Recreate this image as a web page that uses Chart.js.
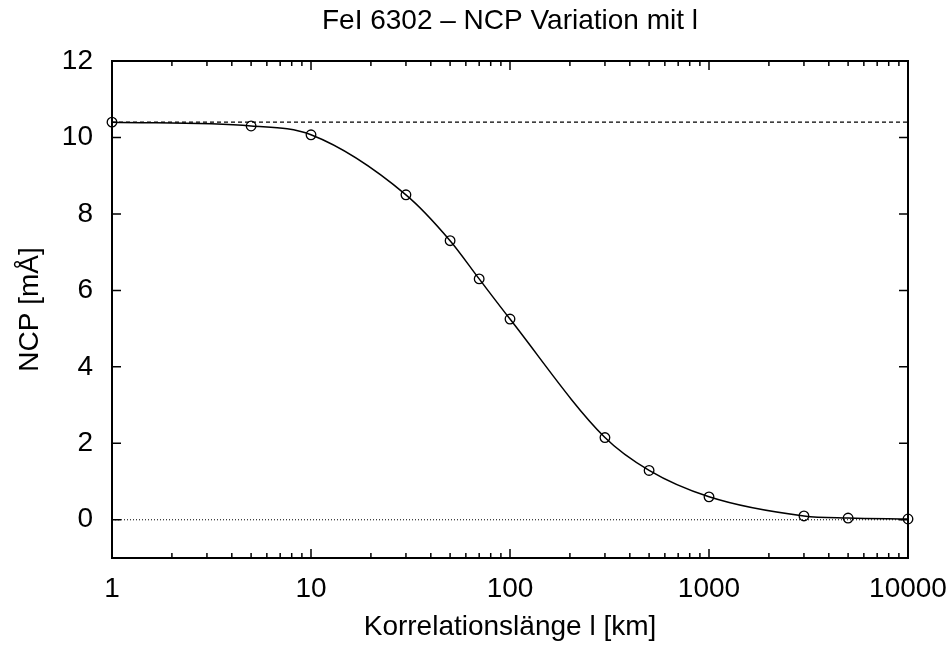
<!DOCTYPE html>
<html>
<head>
<meta charset="utf-8">
<title>FeI 6302 – NCP Variation mit l</title>
<script src="https://cdn.jsdelivr.net/npm/chart.js@4.4.1/dist/chart.umd.min.js"></script>
<style>
  html, body { margin: 0; padding: 0; background: #fff; }
  canvas { display: block; }
</style>
</head>
<body>
<canvas id="ncpChart" width="950" height="647"></canvas>
<script>
// Korrelationslänge l [km] und NCP [mÅ]
const lengths = [1, 5, 10, 30, 50, 70, 100, 300, 500, 1000, 3000, 5000, 10000];
const ncpValues = [10.40, 10.30, 10.07, 8.50, 7.30, 6.30, 5.25, 2.15, 1.29, 0.60, 0.10, 0.045, 0.02];
const refLevel = 10.40; // gestrichelte Linie oben
const xTicks = [1, 10, 100, 1000, 10000];
const yTicks = [0, 2, 4, 6, 8, 10, 12];

const fontFamily = '"Liberation Sans", Arial, Helvetica, sans-serif';
const bigFont = { family: fontFamily, size: 28, weight: 'normal' };

// Rahmen und nach innen zeigende Ticks (wie gnuplot)
const frameTicks = {
    id: 'frameTicks',
    afterDatasetsDraw(chart) {
        const { ctx, chartArea: a, scales: { x, y } } = chart;
        ctx.save();
        ctx.strokeStyle = '#000';
        ctx.lineWidth = 1.5;
        ctx.beginPath();
        yTicks.forEach(v => {
            const py = y.getPixelForValue(v);
            ctx.moveTo(a.left, py); ctx.lineTo(a.left + 9, py);
            ctx.moveTo(a.right, py); ctx.lineTo(a.right - 9, py);
        });
        xTicks.forEach((d, i) => {
            const px = x.getPixelForValue(d);
            ctx.moveTo(px, a.bottom); ctx.lineTo(px, a.bottom - 9);
            ctx.moveTo(px, a.top); ctx.lineTo(px, a.top + 9);
            if (i < xTicks.length - 1) {
                for (let k = 2; k <= 9; k++) {
                    const pm = x.getPixelForValue(d * k);
                    ctx.moveTo(pm, a.bottom); ctx.lineTo(pm, a.bottom - 5);
                    ctx.moveTo(pm, a.top); ctx.lineTo(pm, a.top + 5);
                }
            }
        });
        ctx.stroke();
        ctx.lineWidth = 2;
        ctx.strokeRect(a.left, a.top, a.width, a.height);
        ctx.restore();
    }
};

const ctx = document.getElementById('ncpChart').getContext('2d');
const ncpChart = new Chart(ctx, {
    type: 'line',
    data: {
        datasets: [
            {
                label: 'NCP',
                data: lengths.map((l, i) => ({ x: l, y: ncpValues[i] })),
                borderColor: '#000',
                borderWidth: 1.5,
                cubicInterpolationMode: 'monotone',
                pointRadius: 4.8,
                pointBorderWidth: 1.3,
                pointBorderColor: '#000',
                pointBackgroundColor: 'rgba(0,0,0,0)',
                clip: false
            },
            {
                label: 'Referenz',
                data: [{ x: xTicks[0], y: refLevel }, { x: xTicks[xTicks.length - 1], y: refLevel }],
                borderColor: '#000',
                borderWidth: 1.2,
                borderDash: [4, 3],
                pointRadius: 0
            },
            {
                label: 'Null',
                data: [{ x: xTicks[0], y: 0 }, { x: xTicks[xTicks.length - 1], y: 0 }],
                borderColor: '#000',
                borderWidth: 1,
                borderDash: [1, 2],
                pointRadius: 0
            }
        ]
    },
    options: {
        responsive: false,
        animation: false,
        layout: { padding: { left: 0, right: 42, top: 0, bottom: 0 } },
        scales: {
            x: {
                type: 'logarithmic',
                min: 1,
                max: 10000,
                afterBuildTicks: s => { s.ticks = xTicks.map(v => ({ value: v })); },
                afterFit: s => { s.height = 89; s.paddingLeft = 0; s.paddingRight = 0; },
                grid: { display: false, drawTicks: false },
                border: { display: false },
                ticks: {
                    callback: v => String(v),
                    font: bigFont,
                    color: '#000',
                    padding: 14,
                    maxRotation: 0,
                    autoSkip: false
                },
                title: {
                    display: true,
                    text: 'Korrelationslänge l [km]',
                    font: bigFont,
                    color: '#000',
                    padding: { top: 0, bottom: 3 }
                }
            },
            y: {
                type: 'linear',
                min: -1,
                max: 12,
                afterBuildTicks: s => { s.ticks = yTicks.map(v => ({ value: v })); },
                afterFit: s => { s.width = 112; },
                grid: { display: false, drawTicks: false },
                border: { display: false },
                ticks: {
                    font: bigFont,
                    color: '#000',
                    padding: 19
                },
                title: {
                    display: true,
                    text: 'NCP [mÅ]',
                    font: bigFont,
                    color: '#000',
                    padding: { top: 13, bottom: 0 }
                }
            }
        },
        plugins: {
            legend: { display: false },
            tooltip: { enabled: false },
            title: {
                display: true,
                fullSize: false,
                text: 'FeI 6302 – NCP Variation mit l',
                font: bigFont,
                color: '#000',
                padding: { top: 4, bottom: 23.4 }
            }
        }
    },
    plugins: [frameTicks]
});
</script>
</body>
</html>
